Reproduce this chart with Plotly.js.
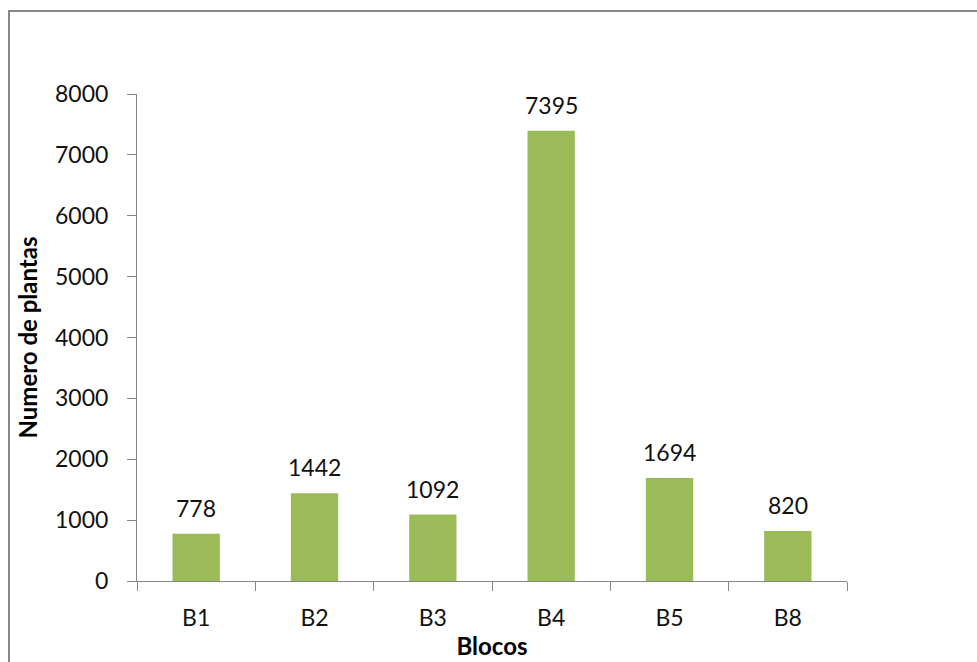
<!DOCTYPE html>
<html>
<head>
<meta charset="utf-8">
<script src="https://cdn.plot.ly/plotly-3.0.1.min.js"></script>
<style>html,body{margin:0;padding:0;background:#fff;}#chart{width:977px;height:662px;}</style>
</head>
<body>
<div id="chart"></div>
<script>
const categories = ["B1", "B2", "B3", "B4", "B5", "B8"];
const values = [778, 1442, 1092, 7395, 1694, 820];
const yTicks = [0, 1000, 2000, 3000, 4000, 5000, 6000, 7000, 8000];

const fontFam = "Lato, 'Open Sans', 'Liberation Sans', sans-serif";
const axisGray = "#868686";
const txt = "#111111";

const trace = {
  type: "bar",
  x: categories,
  y: values,
  marker: {color: "#9BBB59"},
  width: 0.4,
  hoverinfo: "x+y"
};

const labels = categories.map((c, i) => ({
  x: c, y: values[i], xref: "x", yref: "y",
  text: String(values[i]),
  showarrow: false,
  yanchor: "bottom",
  yshift: 10,
  font: {family: fontFam, size: 23, color: txt}
}));

const layout = {
  width: 977,
  height: 662,
  margin: {l: 137, r: 130, t: 94, b: 81},
  paper_bgcolor: "#ffffff",
  plot_bgcolor: "#ffffff",
  showlegend: false,
  font: {family: fontFam, size: 23, color: txt},
  xaxis: {
    type: "category",
    tickson: "boundaries",
    ticks: "outside",
    ticklen: 9,
    tickcolor: axisGray,
    tickwidth: 1,
    showline: true,
    linecolor: axisGray,
    linewidth: 1,
    showgrid: false,
    zeroline: false,
    ticklabelstandoff: 16,
    tickfont: {family: fontFam, size: 23, color: txt},
    title: {text: "<b>Blocos</b>", font: {family: fontFam, size: 24, color: "#000"}, standoff: 8}
  },
  yaxis: {
    range: [0, 8000],
    tickvals: yTicks,
    ticktext: yTicks.map(String),
    ticks: "outside",
    ticklen: 9,
    tickcolor: axisGray,
    tickwidth: 1,
    showline: true,
    linecolor: axisGray,
    linewidth: 1,
    showgrid: false,
    zeroline: false,
    ticklabelstandoff: 14,
    tickfont: {family: fontFam, size: 23, color: txt},
    title: {text: "<b>Numero de plantas</b>", font: {family: fontFam, size: 24, color: "#000"}, standoff: 10}
  },
  annotations: labels,
  shapes: [{
    type: "rect",
    xref: "paper", yref: "paper",
    x0: -0.1803, x1: 1.3, y0: -0.3, y1: 1.1704,
    line: {color: "#878787", width: 2},
    fillcolor: "rgba(0,0,0,0)",
    layer: "below"
  }]
};

Plotly.newPlot("chart", [trace], layout, {displayModeBar: false, staticPlot: true});
</script>
</body>
</html>
